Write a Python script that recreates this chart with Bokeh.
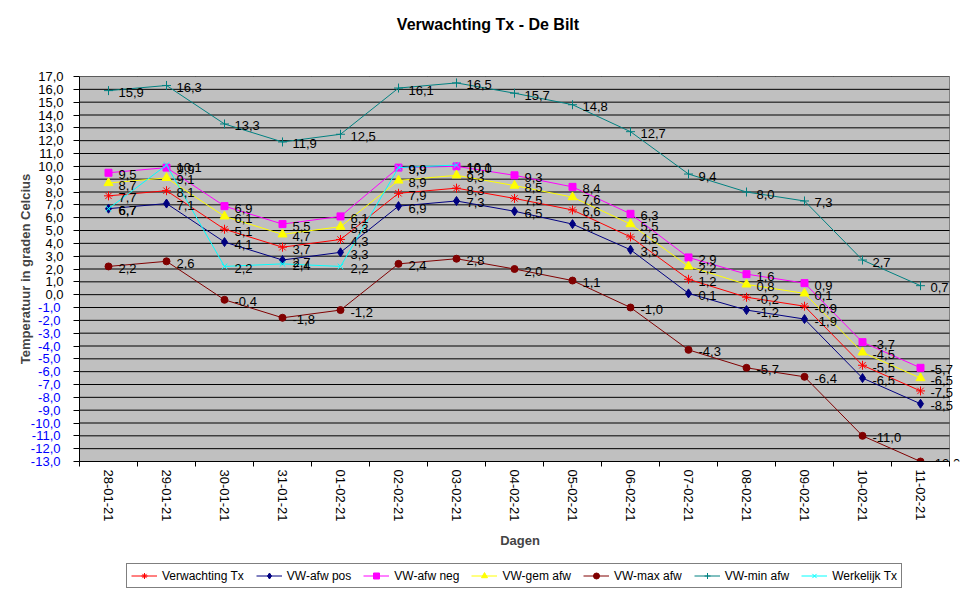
import math
from bokeh.plotting import figure
from bokeh.layouts import column
from bokeh.models import (Range1d, FixedTicker, ColumnDataSource, LabelSet, Label,
                          Legend, LegendItem, LinearAxis)
from bokeh.core.properties import value
from bokeh.embed import file_html
from bokeh.resources import INLINE

# ---------------- data ----------------
days = ["28-01-21", "29-01-21", "30-01-21", "31-01-21", "01-02-21", "02-02-21",
        "03-02-21", "04-02-21", "05-02-21", "06-02-21", "07-02-21", "08-02-21",
        "09-02-21", "10-02-21", "11-02-21"]
verwachting = [7.7, 8.1, 5.1, 3.7, 4.3, 7.9, 8.3, 7.5, 6.6, 4.5, 1.2, -0.2, -0.9, -5.5, -7.5]
afw_pos = [6.7, 7.1, 4.1, 2.7, 3.3, 6.9, 7.3, 6.5, 5.5, 3.5, 0.1, -1.2, -1.9, -6.5, -8.5]
afw_neg = [9.5, 9.9, 6.9, 5.5, 6.1, 9.9, 10.0, 9.3, 8.4, 6.3, 2.9, 1.6, 0.9, -3.7, -5.7]
gem_afw = [8.7, 9.1, 6.1, 4.7, 5.3, 8.9, 9.3, 8.5, 7.6, 5.5, 2.2, 0.8, 0.1, -4.5, -6.5]
max_afw = [2.2, 2.6, -0.4, -1.8, -1.2, 2.4, 2.8, 2.0, 1.1, -1.0, -4.3, -5.7, -6.4, -11.0, -13.0]
min_afw = [15.9, 16.3, 13.3, 11.9, 12.5, 16.1, 16.5, 15.7, 14.8, 12.7, 9.4, 8.0, 7.3, 2.7, 0.7]
werkelijk = [6.7, 10.1, 2.2, 2.4, 2.2, 9.9, 10.1] + [float("nan")] * 8
y_ticks = list(range(-13, 18))
title_text = "Verwachting Tx - De Bilt"

FONT = "Liberation Sans"
W = 976
N = len(days)
X_END = N + 11 / 58.0   # a little room right of the plot area so edge labels stay visible


def fmt(v):
    return f"{v:.1f}".replace(".", ",")


xs = [i + 0.5 for i in range(N)]

# ---------------- title strip ----------------
head = figure(width=W, height=48, x_range=Range1d(79, 960), y_range=Range1d(0, 48),
              x_axis_type=None, y_axis_type=None, output_backend="svg",
              toolbar_location=None, min_border=0)
head.outline_line_color = None
head.title.visible = False
head.add_layout(Label(x=487.5, y=24, text=title_text, text_align="center",
                      text_baseline="middle", text_font=FONT, text_font_style="bold",
                      text_font_size="16px", text_color="black"))

# ---------------- main chart ----------------
p = figure(width=W, height=513, x_range=Range1d(0, X_END), y_range=Range1d(-13, 17),
           output_backend="svg", toolbar_location=None,
           min_border_left=79, min_border_right=16, min_border_top=28, min_border_bottom=100)
p.title.visible = False
p.background_fill_color = "white"
p.border_fill_color = "white"
p.outline_line_color = None

# plot area (gray) with gray border
p.quad(left=[0], right=[N], bottom=[y_ticks[0]], top=[y_ticks[-1]],
       fill_color="#C0C0C0", line_color="#808080", line_width=1)
# horizontal grid lines limited to the plot area
p.ygrid.visible = False
p.segment(x0=[0] * len(y_ticks), x1=[N] * len(y_ticks), y0=y_ticks, y1=y_ticks,
          line_color="black", line_width=1)
p.xgrid.ticker = FixedTicker(ticks=list(range(N + 1)))
p.xgrid.grid_line_color = "black"
p.xgrid.grid_line_width = 1

xa = p.xaxis[0]
xa.bounds = (0, N)
xa.ticker = FixedTicker(ticks=xs, minor_ticks=list(range(N + 1)))
xa.major_label_overrides = {x: d for x, d in zip(xs, days)}
xa.major_label_orientation = -math.pi / 2
xa.major_tick_line_color = None
xa.major_tick_out = 5
xa.major_tick_in = 0
xa.minor_tick_out = 5
xa.minor_tick_in = 0
xa.minor_tick_line_color = "black"
xa.major_label_standoff = 3
xa.major_label_text_font = FONT
xa.major_label_text_font_size = "13px"
xa.major_label_text_color = "black"
xa.axis_line_color = "black"
xa.axis_label = "Dagen"
xa.axis_label_text_font = FONT
xa.axis_label_text_font_style = "bold"
xa.axis_label_text_font_size = "13px"
xa.axis_label_standoff = 8

# inner y axis: black labels for non-negative ticks
ya = p.yaxis[0]
ya.ticker = FixedTicker(ticks=y_ticks)
ya.major_label_overrides = {t: (fmt(t) if t >= 0 else "") for t in y_ticks}
ya.major_tick_out = 6
ya.major_tick_in = 0
ya.minor_tick_line_color = None
ya.major_label_standoff = 10
ya.major_label_text_font = FONT
ya.major_label_text_font_size = "13px"
ya.major_label_text_color = "black"
ya.axis_line_color = "black"

# outer y axis: blue labels for negative ticks, pulled onto the same column
neg_ticks = [t for t in y_ticks if t < 0]
ya2 = LinearAxis(ticker=FixedTicker(ticks=neg_ticks),
                 major_label_overrides={t: fmt(t) for t in neg_ticks},
                 axis_line_color=None, major_tick_line_color=None, minor_tick_line_color=None,
                 major_tick_out=0, major_tick_in=0, minor_tick_out=0, minor_tick_in=0,
                 major_label_standoff=-25,
                 major_label_text_font=FONT, major_label_text_font_size="13px",
                 major_label_text_color="#0000FF",
                 axis_label="Temperatuur in graden Celcius", axis_label_text_font=FONT,
                 axis_label_text_font_style="bold", axis_label_text_font_size="13px",
                 axis_label_standoff=-5)
p.add_layout(ya2, "left")

series = [
    ("Verwachting Tx", verwachting, "#FF0000", "asterisk", 9),
    ("VW-afw pos", afw_pos, "#000080", "diamond", 9),
    ("VW-afw neg", afw_neg, "#FF00FF", "square", 7),
    ("VW-gem afw", gem_afw, "#FFFF00", "triangle", 9),
    ("VW-max afw", max_afw, "#800000", "circle", 7),
    ("VW-min afw", min_afw, "#008080", "cross", 9),
    ("Werkelijk Tx", werkelijk, "#00FFFF", "x", 8),
]

for name, vals, color, marker, size in series:
    src = ColumnDataSource(dict(x=xs, y=vals))
    p.line("x", "y", source=src, line_color=color, line_width=1)
    p.scatter("x", "y", source=src, marker=marker, size=size,
              fill_color=color, line_color=color, line_width=1)

for name, vals, color, marker, size in series:
    lx = [x for x, v in zip(xs, vals) if v == v]
    ly = [v for v in vals if v == v]
    lsrc = ColumnDataSource(dict(x=lx, y=ly, t=[fmt(v) for v in ly]))
    p.add_layout(LabelSet(x="x", y="y", text="t", source=lsrc, x_offset=10, y_offset=-2,
                          text_align="left", text_baseline="middle",
                          text_color=value("black"), text_font=value(FONT),
                          text_font_size=value("13px"), level="overlay"))

# ---------------- legend strip ----------------
# the same series, drawn outside this strip's visible ranges, only to feed the legend
foot = figure(width=W, height=37, x_range=Range1d(-3, -2), y_range=Range1d(100, 101),
              x_axis_type=None, y_axis_type=None, output_backend="svg",
              toolbar_location=None, min_border=0)
foot.outline_line_color = None
foot.title.visible = False
items = []
for name, vals, color, marker, size in series:
    fsrc = ColumnDataSource(dict(x=xs, y=vals))
    rl = foot.line("x", "y", source=fsrc, line_color=color, line_width=1)
    rm = foot.scatter("x", "y", source=fsrc, marker=marker, size=size, fill_color=color,
                      line_color=color, line_width=1)
    items.append(LegendItem(label=name, renderers=[rl, rm]))
legend = Legend(items=items, location=(47, 10), orientation="horizontal",
                border_line_color="black", border_line_width=1,
                background_fill_color="white", background_fill_alpha=1.0,
                label_text_font=FONT, label_text_font_size="12px", label_text_color="black",
                glyph_width=26, glyph_height=15, label_height=15, label_standoff=5,
                spacing=12, padding=4, margin=0)
foot.add_layout(legend)

layout = column(head, p, foot, spacing=0)
open("out.html", "w").write(file_html(layout, INLINE))
